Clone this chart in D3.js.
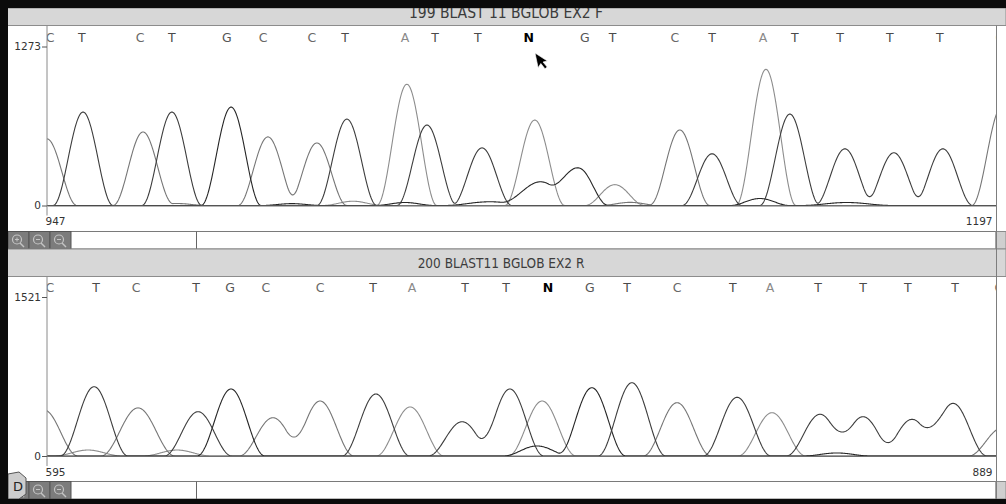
<!DOCTYPE html>
<html>
<head>
<meta charset="utf-8">
<script src="https://cdn.jsdelivr.net/npm/d3@7"></script>
<style>
  body { margin: 0; background: #fff; }
  svg { display: block; }
</style>
</head>
<body>
<div id="chart"></div>
<script>
////////////////////////////////////////////////////////////////////
////////////////////////////  Data  ////////////////////////////////
// scan range + max signal of each read
const topRange = [947, 1197];
const topMax = 1273;
const botRange = [595, 889];
const botMax = 1521;

// base calls (letter, scan position)
const topBases = "CTCTGCCTATTNGTCTATTTTC".split("");
const topBasePos = [947.8, 956.2, 971.5, 979.9, 994.4, 1003.9, 1016.8, 1025.5, 1041.3, 1049.2, 1060.5,
  1073.9, 1088.7, 1096.0, 1112.4, 1122.2, 1135.6, 1144.0, 1155.9, 1169.0, 1182.2, 1198.0];
const botBases = "CTCTGCCTATTNGTCTATTTTC".split("");
const botBasePos = [595.9, 610.2, 622.6, 641.2, 651.7, 662.8, 679.6, 696.0, 708.1, 724.5, 737.2,
  750.2, 763.2, 774.7, 790.2, 807.5, 819.0, 833.9, 847.8, 861.7, 876.3, 889.9];

// peaks per dye: [scan, height, (half width)]
const topA = [[1027.6, 34], [1041.8, 971], [1075.5, 684], [1096.6, 167], [1136.4, 1090]];
const topC = [[947.0, 533], [972.3, 589], [981.2, 16], [1005.2, 549], [1018.1, 501], [1100.6, 25],
  [1113.7, 605], [1198.5, 790]];
const topG = [[995.5, 788], [1011.5, 15], [1041.3, 24], [1063.7, 30, 12], [1077.0, 190, 10.5],
  [1087.0, 300], [1134.8, 56], [1157.7, 24, 12]];
const topT = [[956.5, 748], [979.9, 748], [1026.0, 692], [1047.1, 644], [1061.6, 461], [1122.2, 414],
  [1142.7, 732], [1157.2, 454], [1170.1, 422], [1183.0, 454]];

const botA = [[607.7, 57], [635.3, 57], [707.5, 469], [748.4, 526], [819.6, 414]];
const botC = [[594.1, 440], [623.2, 460, 11.5], [665.0, 366], [679.6, 526], [790.2, 510], [891.0, 270]];
const botG = [[652.0, 641], [746.8, 96], [763.8, 653], [839.7, 29]];
const botT = [[609.6, 663], [641.8, 424], [696.9, 593], [723.6, 328], [738.4, 641], [776.2, 701],
  [808.8, 561], [834.5, 399], [847.8, 376], [863.0, 351], [875.7, 504]];

////////////////////////////////////////////////////////////////////
////////////////////////////  Init  ////////////////////////////////
const width = 1006, height = 504;
const xLeft = 47, xRight = 996;

const svg = d3.select("#chart").append("svg")
  .attr("width", width).attr("height", height)
  .style("font-family", "'DejaVu Sans', Verdana, sans-serif");

const dyeColor = { A: "#8d8d8d", C: "#767676", G: "#262626", T: "#3d3d3d" };
const letterColor = { A: "#8a8a8a", C: "#686868", G: "#555", T: "#4a4a4a", N: "#000" };

const panels = [
  {
    id: "top", title: "199 BLAST 11 BGLOB EX2 F",
    barY: 8, barH: 17.5, titleX: 506, titleBase: 17.5, titleSize: 15.5,
    plotTop: 26, letterBase: 42, yTop: 46.5, yBase: 205.5, labelBase: 226, scrollY: 231.5,
    range: topRange, max: topMax, bases: topBases, basePos: topBasePos,
    dyes: { A: topA, C: topC, G: topG, T: topT }, halfW: 7.9
  },
  {
    id: "bot", title: "200 BLAST11 BGLOB EX2 R",
    barY: 249, barH: 27.5, titleX: 501, titleBase: 267.5, titleSize: 13.5,
    plotTop: 277, letterBase: 292, yTop: 297, yBase: 456, labelBase: 477, scrollY: 481.5,
    range: botRange, max: botMax, bases: botBases, basePos: botBasePos,
    dyes: { A: botA, C: botC, G: botG, T: botT }, halfW: 10.5
  }
];

// hann shaped peak
function trace(peaks, range, halfW) {
  const pts = [];
  for (let s = range[0] - 14; s <= range[1] + 14; s += 0.2) {
    let v = 0;
    peaks.forEach((p) => {
      const w = p[2] || halfW;
      const d = s - p[0];
      if (Math.abs(d) < w) v += p[1] * (0.5 + 0.5 * Math.cos(Math.PI * d / w));
    });
    pts.push([s, v]);
  }
  return pts;
}

function drawPanel(p) {
  const g = svg.append("g").attr("class", "panel-" + p.id);

  // title bar
  g.append("rect").attr("x", 0).attr("y", p.barY).attr("width", width).attr("height", p.barH)
    .attr("fill", "#d7d7d7").attr("stroke", "#8c8c8c").attr("stroke-width", 1);
  g.append("text").attr("x", p.titleX).attr("y", p.titleBase)
    .attr("text-anchor", "middle").attr("font-size", p.titleSize)
    .attr("font-family", "'DejaVu Sans Condensed', 'Liberation Sans Narrow', sans-serif")
    .attr("fill", "#3c3c3c").text(p.title);

  const x = d3.scaleLinear().domain(p.range).range([xLeft, xRight]);
  const y = d3.scaleLinear().domain([0, p.max]).range([p.yBase, p.yTop]);

  const clipId = "clip-" + p.id;
  svg.append("clipPath").attr("id", clipId).append("rect")
    .attr("x", xLeft).attr("y", p.plotTop).attr("width", xRight - xLeft).attr("height", p.yBase - p.plotTop + 2);

  // base calls
  g.append("g").attr("clip-path", `url(#${clipId})`)
    .selectAll("text").data(p.bases).join("text")
    .attr("x", (d, i) => x(p.basePos[i]))
    .attr("y", p.letterBase)
    .attr("text-anchor", "middle")
    .attr("font-size", 12.5)
    .attr("font-weight", (d) => (d === "N" ? "bold" : "normal"))
    .attr("fill", (d) => letterColor[d])
    .text((d) => d);

  // traces
  const line = d3.line().x((d) => x(d[0])).y((d) => y(d[1]));
  const tg = g.append("g").attr("clip-path", `url(#${clipId})`);
  ["A", "C", "G", "T"].forEach((k) => {
    tg.append("path")
      .datum(trace(p.dyes[k], p.range, p.halfW))
      .attr("d", line)
      .attr("fill", "none")
      .attr("stroke", dyeColor[k])
      .attr("stroke-width", 1.1);
  });

  // baseline
  g.append("g").attr("transform", `translate(0,${p.yBase})`)
    .call(d3.axisBottom(x).tickValues([]).tickSizeOuter(0))
    .call((a) => a.select(".domain").attr("stroke", "#6f6f6f"));

  // scan labels
  const xa = g.append("g").attr("transform", `translate(0,${p.yBase})`)
    .call(d3.axisBottom(x).tickValues(p.range).tickSize(0)
      .tickPadding(p.labelBase - p.yBase - 8).tickFormat(d3.format("d")));
  xa.select(".domain").remove();
  xa.selectAll("text").attr("font-size", 10.5).attr("fill", "#333")
    .attr("font-family", "'DejaVu Sans', sans-serif")
    .attr("text-anchor", (d, i) => (i === 0 ? "start" : "end"))
    .attr("dx", (d, i) => (i === 0 ? -2 : -4));

  // y axis
  g.append("line").attr("x1", xLeft).attr("x2", xLeft).attr("y1", p.plotTop).attr("y2", p.yBase + 10)
    .attr("stroke", "#8a8a8a");
  const ya = g.append("g").attr("transform", `translate(${xLeft},0)`)
    .call(d3.axisLeft(y).tickValues([0, p.max]).tickSize(5).tickPadding(1).tickFormat(d3.format("d")));
  ya.select(".domain").remove();
  ya.selectAll("line").attr("stroke", "#555");
  ya.selectAll("text").attr("font-size", 10.5).attr("fill", "#333")
    .attr("font-family", "'DejaVu Sans', sans-serif");

  // scroll row
  const sy = p.scrollY, sh = 17.5;
  g.append("rect").attr("x", 8).attr("y", sy).attr("width", xRight - 8).attr("height", sh)
    .attr("fill", "#fff").attr("stroke", "#7a7a7a");
  g.append("rect").attr("x", xRight).attr("y", sy).attr("width", width - xRight).attr("height", sh)
    .attr("fill", "#cfcfcf").attr("stroke", "#8a8a8a");
  g.append("line").attr("x1", 196.5).attr("x2", 196.5).attr("y1", sy).attr("y2", sy + sh).attr("stroke", "#666");
  [8, 29, 50].forEach((bx, i) => {
    g.append("rect").attr("x", bx).attr("y", sy).attr("width", 21).attr("height", sh)
      .attr("fill", "#7c7c7c").attr("stroke", "#555");
    g.append("circle").attr("cx", bx + 9).attr("cy", sy + 8).attr("r", 4.5)
      .attr("fill", "none").attr("stroke", "#c4c4c4").attr("stroke-width", 1.2);
    g.append("line").attr("x1", bx + 12).attr("y1", sy + 11.5).attr("x2", bx + 16).attr("y2", sy + 15.5)
      .attr("stroke", "#c4c4c4").attr("stroke-width", 1.5);
    g.append("line").attr("x1", bx + 7).attr("x2", bx + 11).attr("y1", sy + 8).attr("y2", sy + 8)
      .attr("stroke", "#c4c4c4");
    if (i === 0) {
      g.append("line").attr("x1", bx + 9).attr("x2", bx + 9).attr("y1", sy + 6).attr("y2", sy + 10)
        .attr("stroke", "#c4c4c4");
    }
  });
}

panels.forEach(drawPanel);

// right frame line
svg.append("line").attr("x1", xRight + 0.5).attr("x2", xRight + 0.5).attr("y1", 25.5).attr("y2", 499)
  .attr("stroke", "#7d7d7d");

// mouse pointer
svg.append("path")
  .attr("d", "M0,0 L0,15 L3.5,11.5 L6.5,17.5 L9,16.3 L6,10.5 L10.5,10.5 Z")
  .attr("transform", "translate(535,53) rotate(-12)")
  .attr("fill", "#000").attr("stroke", "#fff").attr("stroke-width", 0.6);

// little tab on lower left
svg.append("path")
  .attr("d", "M8,474 L19,472 L26,478 L26,494 L19,499 L8,499 Z")
  .attr("fill", "#cdcdcd").attr("stroke", "#555");
svg.append("text").attr("x", 13).attr("y", 491).attr("font-size", 13).attr("fill", "#222").text("D");

// black window edges
svg.append("rect").attr("x", 0).attr("y", 0).attr("width", width).attr("height", 8).attr("fill", "#0b0b0b");
svg.append("rect").attr("x", 0).attr("y", 0).attr("width", 8).attr("height", height).attr("fill", "#0b0b0b");
svg.append("rect").attr("x", 0).attr("y", 499).attr("width", width).attr("height", 5).attr("fill", "#0b0b0b");
</script>
</body>
</html>
